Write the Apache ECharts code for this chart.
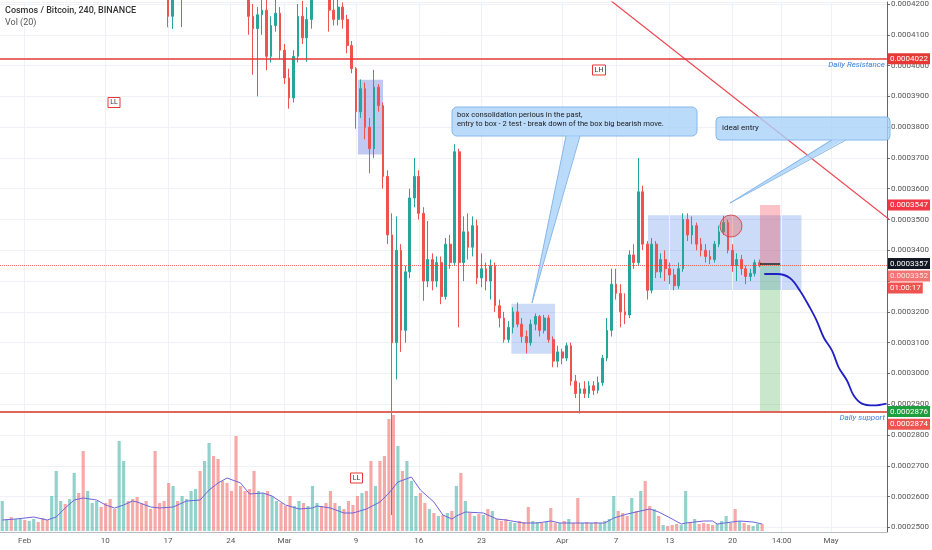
<!DOCTYPE html>
<html><head><meta charset="utf-8">
<script src="https://cdn.jsdelivr.net/npm/echarts@6/dist/echarts.min.js"></script>
<style>html,body{margin:0;padding:0;background:#fff}#c{width:932px;height:550px}</style>
</head><body><div id="c"></div>
<script>
// Prices are given in units of 1e-7 BTC (e.g. 3352 = 0.0003352)
const SCALE = 1e-7;
// 12h candles starting 2020-01-29 12:00 UTC
const openE7 = [
4480,4520,4560,4530,4590,4610,4570,4600,4640,4620,
4580,4550,4600,4660,4700,4680,4720,4760,4730,4690,
4710,4750,4800,4770,4740,4700,4660,4690,4720,4680,
4640,4600,4560,4520,4480,4430,4380,4300,4160,4280,
4260,4330,4380,4420,4460,4430,4480,4520,4490,4450,
4410,4380,4340,4300,4270,4250,4160,4120,4165,4180,
4030,4130,4170,4050,3960,3895,4030,4160,4090,4150,
4230,4300,4280,4250,4180,4150,4190,4150,4065,3990,
3850,3925,3800,3730,3930,3870,3640,3450,3100,3400,
3140,3330,3570,3640,3520,3300,3370,3300,3360,3250,
3420,3360,3720,3360,3460,3410,3480,3310,3340,3300,
3350,3220,3180,3110,3150,3200,3160,3120,3100,3160,
3185,3140,3180,3110,3040,3070,3050,3090,2975,2935,
2950,2935,2960,2945,2970,3050,3140,3290,3260,3200,
3190,3385,3360,3590,3420,3270,3420,3330,3370,3340,
3320,3285,3340,3500,3450,3480,3420,3400,3380,3370,
3420,3460,3490,3400,3350,3370,3340,3315,3325,3360];
const closeE7 = [
4520,4560,4530,4590,4610,4570,4600,4640,4620,4580,
4550,4600,4660,4700,4680,4720,4760,4730,4690,4710,
4750,4800,4770,4740,4700,4660,4690,4720,4680,4640,
4600,4560,4520,4480,4430,4380,4300,4160,4280,4260,
4330,4380,4420,4460,4430,4480,4520,4490,4450,4410,
4380,4340,4300,4270,4250,4160,4120,4165,4180,4030,
4130,4170,4050,3960,3895,4030,4160,4090,4150,4230,
4300,4280,4250,4180,4150,4190,4150,4065,3990,3850,
3925,3800,3730,3930,3870,3640,3450,3100,3400,3140,
3330,3570,3640,3520,3300,3370,3300,3360,3250,3420,
3360,3720,3360,3460,3410,3480,3310,3340,3300,3350,
3220,3180,3110,3150,3200,3160,3120,3100,3160,3185,
3140,3180,3110,3040,3070,3050,3090,2975,2935,2950,
2935,2960,2945,2970,3050,3140,3290,3260,3200,3190,
3385,3360,3590,3420,3270,3420,3330,3370,3340,3320,
3285,3340,3500,3450,3480,3420,3400,3380,3370,3420,
3460,3490,3400,3350,3370,3340,3315,3325,3360,3352];
const lowE7 = [
4450,4490,4500,4510,4560,4540,4550,4580,4590,4550,
4520,4530,4570,4640,4650,4660,4690,4700,4660,4670,
4690,4730,4740,4710,4680,4630,4600,4650,4650,4610,
4570,4530,4490,4450,4390,4340,4260,4125,4119,4220,
4125,4300,4350,4390,4400,4410,4450,4460,4420,4380,
4350,4310,4260,4240,4215,4100,3970,3900,4100,3985,
4010,4110,4020,3940,3860,3880,4010,4070,4012,4120,
4210,4250,4215,4110,4130,4130,4120,4040,3975,3795,
3830,3760,3650,3700,3850,3600,3420,2540,2980,3070,
3100,3310,3540,3500,3236,3280,3270,3280,3225,3240,
3340,3350,3150,3300,3370,3380,3290,3280,3270,3240,
3200,3150,3100,3100,3130,3150,3100,3065,3090,3140,
3120,3130,3100,3020,3020,3030,3040,2960,2920,2870,
2920,2920,2930,2935,2960,3040,3120,3240,3150,3160,
3180,3340,3350,3400,3240,3260,3310,3310,3300,3290,
3270,3275,3330,3430,3420,3400,3380,3360,3355,3360,
3410,3450,3390,3330,3300,3320,3290,3300,3315,3345];
const highE7 = [
4550,4590,4580,4620,4640,4630,4630,4670,4660,4640,
4600,4640,4700,4740,4730,4750,4800,4780,4790,4740,
4780,4830,4820,4790,4760,4720,4730,4760,4740,4700,
4660,4620,4580,4540,4500,4450,4400,4320,4300,4330,
4350,4410,4450,4490,4480,4510,4550,4540,4510,4470,
4430,4400,4360,4320,4290,4270,4200,4190,4230,4220,
4160,4240,4190,4070,3990,4050,4200,4210,4190,4280,
4330,4340,4310,4270,4215,4230,4205,4165,4080,3995,
3955,3945,3830,3986,3940,3880,3660,3520,3510,3420,
3350,3600,3700,3660,3540,3495,3390,3380,3380,3440,
3450,3745,3730,3510,3520,3510,3500,3390,3360,3370,
3360,3240,3200,3170,3215,3230,3180,3140,3175,3195,
3190,3190,3190,3120,3090,3080,3100,3100,2995,2970,
2975,2975,2975,2990,3060,3180,3340,3340,3290,3260,
3400,3420,3700,3610,3430,3440,3430,3390,3400,3360,
3340,3360,3520,3520,3510,3490,3440,3420,3400,3430,
3480,3512,3500,3420,3390,3385,3350,3340,3370,3370];
// volume (relative units)
const volume = [
30,12,14,12,13,11,10,12,9,13,
11,35,60,30,27,32,58,38,80,40,
28,30,24,28,32,22,90,70,30,32,
34,28,30,22,80,28,30,48,45,30,
35,32,40,42,60,70,88,75,72,50,
48,40,95,45,40,42,60,40,38,40,
35,30,28,25,35,25,30,28,25,45,
28,25,28,40,28,25,22,30,26,35,
38,40,70,45,70,75,112,116,85,60,
70,50,35,38,28,22,18,15,16,18,
20,45,58,30,18,15,17,16,22,20,
12,10,12,9,8,10,9,24,10,9,
8,9,23,8,8,10,12,8,33,8,
9,8,9,8,10,12,35,20,18,15,
33,20,40,50,25,22,15,6,5,6,
7,6,40,8,12,7,8,7,6,7,
10,15,8,22,10,8,6,5,7,7];
// Vol(20) moving average read at candle indices
const maIdx = [0,3,7,10,12,14,16,18,21,23,25,27,29,30,33,35,38,41,44,46,48,50,53,55,58,60,63,66,69,70,73,76,78,81,84,86,88,91,93,96,98,100,101,103,107,110,112,116,119,122,124,130,134,136,139,141,144,146,149,151,152,156,158,159,164,167,169];
const maVal = [11,12,14,11,14,23,31,33,31,26,23,26,30,29,24,23,24,30,31,41,48,53,48,37,38,35,26,22,23,25,23,18,18,22,29,38,49,54,41,29,16,12,15,19,18,12,11,8,8,10,8,8,8,13,17,19,22,19,12,7,8,10,10,7,10,9,7];
// x-axis tick labels
const xTickDates = ['2020-02-01 00:00','2020-02-10 00:00','2020-02-17 00:00','2020-02-24 00:00','2020-03-01 00:00','2020-03-09 00:00','2020-03-16 00:00','2020-03-23 00:00','2020-04-01 00:00','2020-04-07 00:00','2020-04-13 00:00','2020-04-20 00:00','2020-04-25 12:00','2020-05-01 00:00'];
const xTickText = ['Feb','10','17','24','Mar','9','16','23','Apr','7','13','20','14:00','May'];
// y-axis tick labels hidden under price tags (as in the original)
const hiddenYTicks = [0.00033];
// drawings
const trendDates = ['2020-04-04 12:00','2020-05-08 00:00'];
const trendE7 = [4255,3489];
const projDates = ['2020-04-23 13:30','2020-04-25 00:00','2020-04-26 10:00','2020-04-27 13:30','2020-04-28 16:00','2020-04-29 10:00','2020-04-30 05:00','2020-05-01 03:00','2020-05-01 21:00','2020-05-02 19:00','2020-05-03 13:00','2020-05-04 11:00','2020-05-05 19:00','2020-05-07 05:00'];
const projE7 = [3323,3323,3310,3268,3213,3171,3116,3074,3019,2977,2928,2902,2896,2902];
const boxes = [ // [startDate, endDate, topE7, bottomE7]
 ['2020-03-09 05:00','2020-03-12 00:00',3954,3711],
 ['2020-03-26 08:00','2020-03-31 05:00',3226,3064],
 ['2020-04-10 14:00','2020-04-27 17:00',3514,3271]];
const position = {start:'2020-04-23 02:00', end:'2020-04-25 08:00', stopE7:3547, entryE7:3357, targetE7:2876};
const resistanceE7 = 4022, supportE7 = 2874, lastE7 = 3352;

function fmt(t){const d=new Date(t);const p=n=>String(n).padStart(2,'0');return d.getUTCFullYear()+'-'+p(d.getUTCMonth()+1)+'-'+p(d.getUTCDate())+' '+p(d.getUTCHours())+':'+p(d.getUTCMinutes());}
function T(s){return Date.UTC(+s.slice(0,4),+s.slice(5,7)-1,+s.slice(8,10),+s.slice(11,13),+s.slice(14,16));}
const categories=[]; const t0=Date.UTC(2020,0,29,12);
for(let i=0;i<198;i++) categories.push(fmt(t0+i*43200000));
const tickIdx = {}; xTickDates.forEach((d,k)=>{tickIdx[categories.indexOf(d)] = xTickText[k];});

const UP='#26a69a', DOWN='#ef5350';
const candles = openE7.map((o,i)=>[o*SCALE, closeE7[i]*SCALE, lowE7[i]*SCALE, highE7[i]*SCALE]);
const volData = volume.map((v,i)=>({value:v, itemStyle:{color: closeE7[i]>=openE7[i] ? 'rgba(38,166,154,0.5)' : 'rgba(239,83,80,0.5)'}}));
const maData = maIdx.map((k,j)=>[categories[k], maVal[j]]);
const FONT='Roboto, "Liberation Sans", sans-serif';
const tag=(txt,bg,dy)=>({show:true,position:'end',distance:1,formatter:txt,backgroundColor:bg,color:'#fff',fontSize:8,fontFamily:FONT,padding:[2,2,1,2],offset:[0,dy||0]});
const NOLINE={color:'rgba(0,0,0,0)',width:0};
const xs = T('2020-01-29 06:00'), xe = T('2020-05-07 06:00');
const hline = (e7, lineStyle, label) => [{coord:[xs, e7*SCALE], lineStyle, label},{coord:[xe, e7*SCALE]}];

const chart = echarts.init(document.getElementById('c'));
chart.setOption({
  animation:false,
  backgroundColor:'#fff',
  grid:[{left:-0.75,right:41.75,top:0,bottom:18},{left:-0.75,right:41.75,top:401,bottom:19}],
  xAxis:[
    {type:'category',gridIndex:0,data:categories,boundaryGap:true,
     axisLine:{lineStyle:{color:'#b8bbc4'}},axisTick:{show:false},splitLine:{show:false},
     axisLabel:{interval:(i)=>tickIdx[i]!==undefined,formatter:(v,i)=>tickIdx[i]||'',fontSize:8,color:'#555',fontFamily:FONT,margin:5}},
    {type:'time',gridIndex:0,min:xs,max:xe,show:false},
    {type:'category',gridIndex:1,data:categories,boundaryGap:true,show:false}
  ],
  yAxis:[
    {type:'value',gridIndex:0,position:'right',min:0.0002485,max:0.00042065,splitNumber:17,scale:true,
     axisLine:{show:true,lineStyle:{color:'#666'}},axisTick:{show:true,length:3,lineStyle:{color:'#666'}},
     axisLabel:{formatter:v=>hiddenYTicks.some(h=>Math.abs(h-v)<1e-9)?'':v.toFixed(7),fontSize:8,color:'#555',fontFamily:FONT,margin:4,showMinLabel:false,showMaxLabel:false},
     splitLine:{lineStyle:{color:'#eff1f6'}}},
    {type:'value',gridIndex:1,min:0,max:130,show:false}
  ],
  series:[
    {type:'line',name:'vgrid',xAxisIndex:1,yAxisIndex:0,data:[],silent:true,
     markLine:{z:1,silent:true,symbol:['none','none'],label:{show:false},lineStyle:{color:'#eff1f6',width:1,type:'solid'},
       data:xTickDates.map(d=>({xAxis:T(d)}))}},
    {type:'bar',name:'Vol',xAxisIndex:2,yAxisIndex:1,data:volData,barWidth:'70%',z:1},
    {type:'line',name:'VolMA',xAxisIndex:2,yAxisIndex:1,data:maData,symbol:'none',lineStyle:{color:'#6d64d8',width:1},z:2},
    {type:'candlestick',name:'ATOMBTC',xAxisIndex:0,yAxisIndex:0,data:candles,z:3,
     itemStyle:{color:UP,color0:DOWN,borderColor:UP,borderColor0:DOWN,borderWidth:1}},
    {type:'line',name:'levels',xAxisIndex:1,yAxisIndex:0,data:[],silent:true,z:6,
     markLine:{silent:true,symbol:['none','none'],z:6,data:[
       hline(resistanceE7,{color:'#e53935',width:1.5,type:'solid'},tag('0.0004022','#e53935')),
       hline(resistanceE7,NOLINE,{show:true,position:'insideEndBottom',formatter:'Daily Resistance',color:'#3d7fd6',fontStyle:'italic',fontSize:8,fontFamily:FONT,distance:2}),
       hline(position.stopE7,NOLINE,tag('0.0003547','#f23645')),
       hline(position.entryE7,NOLINE,tag('0.0003357','#131722')),
       hline(lastE7,{color:'#f44336',width:1,type:'dotted',opacity:0.8},tag('0.0003352','#ef5350',11)),
       hline(lastE7,NOLINE,tag('01:00:17','#ef5350',23)),
       hline(position.targetE7,NOLINE,tag('0.0002876','#1e9e3e')),
       hline(supportE7,{color:'#e0665c',width:2,type:'solid'},tag('0.0002874','#ef5350',12)),
       hline(supportE7,NOLINE,{show:true,position:'insideEndBottom',formatter:'Daily support',color:'#3d7fd6',fontStyle:'italic',fontSize:8,fontFamily:FONT,distance:2})
     ]}},
    {type:'line',name:'trend',xAxisIndex:1,yAxisIndex:0,data:trendDates.map((d,k)=>[T(d),trendE7[k]*SCALE]),symbol:'none',
     lineStyle:{color:'#f0434f',width:1.2},z:4,silent:true,
     markArea:{silent:true,data:boxes.map((b,k)=>[{coord:[T(b[0]),b[2]*SCALE],itemStyle:{color:k===0?'rgba(60,90,215,0.33)':'rgba(50,110,225,0.25)'}},{coord:[T(b[1]),b[3]*SCALE]}])}},
    {type:'line',name:'projection',xAxisIndex:1,yAxisIndex:0,data:projDates.map((d,k)=>[T(d),projE7[k]*SCALE]),symbol:'none',smooth:0.35,
     lineStyle:{color:'#1f1fc4',width:1.8},z:5,silent:true,
     markArea:{silent:true,data:[
       [{coord:[T(position.start),position.stopE7*SCALE],itemStyle:{color:'rgba(242,54,69,0.3)'}},{coord:[T(position.end),position.entryE7*SCALE]}],
       [{coord:[T(position.start),position.entryE7*SCALE],itemStyle:{color:'rgba(76,175,80,0.3)'}},{coord:[T(position.end),position.targetE7*SCALE]}]]},
     markLine:{silent:true,symbol:['none','none'],label:{show:false},data:[
       [{coord:[T(position.start),position.entryE7*SCALE],lineStyle:{color:'#222',width:1.5,type:'solid'}},{coord:[T(position.end),position.entryE7*SCALE]}]]}}
  ],
  graphic:[
    {type:'text',x:5,y:6,z:100,style:{text:'Cosmos / Bitcoin, 240, BINANCE',fill:'#333',font:'500 9px '+FONT}},
    {type:'text',x:5,y:18,z:100,style:{text:'Vol (20)',fill:'#555',font:'9px '+FONT}},
    // callout 1
    {type:'rect',z:100,shape:{x:452,y:107,width:245,height:29,r:5},style:{fill:'rgba(170,210,250,0.8)',stroke:'#86b8ec',lineWidth:1}},
    {type:'polygon',z:101,shape:{points:[[566,135],[580,135],[532,303]]},style:{fill:'rgba(170,210,250,0.8)'}},
    {type:'polyline',z:101,shape:{points:[[566,136],[532,303],[580,136]]},style:{stroke:'#86b8ec',lineWidth:1,fill:null}},
    {type:'text',x:457,y:110,z:102,style:{text:'box consolidation perious in the past,\nentry to box - 2 test - break down of the box big bearish move.',fill:'#1a1a1a',font:'7.6px '+FONT,lineHeight:9.5}},
    // callout 2
    {type:'rect',z:100,shape:{x:716,y:117,width:174,height:23,r:4},style:{fill:'rgba(170,210,250,0.8)',stroke:'#86b8ec',lineWidth:1}},
    {type:'polygon',z:101,shape:{points:[[832,139],[846,139],[730,203]]},style:{fill:'rgba(170,210,250,0.8)'}},
    {type:'polyline',z:101,shape:{points:[[832,140],[730,203],[846,140]]},style:{stroke:'#86b8ec',lineWidth:1,fill:null}},
    {type:'text',x:722,y:124,z:102,style:{text:'ideal entry',fill:'#1a1a1a',font:'8px '+FONT}},
    // circle
    {type:'circle',z:100,shape:{cx:731,cy:226,r:11},style:{fill:'rgba(239,83,80,0.35)',stroke:'rgba(200,60,60,0.8)',lineWidth:1}},
    // LL / LH labels
    {type:'rect',z:100,shape:{x:108,y:97.5,width:12,height:10},style:{fill:'#fff',stroke:'#e53935',lineWidth:1}},
    {type:'text',z:101,x:114,y:102.5,style:{text:'LL',fill:'#333',font:'7px '+FONT,align:'center',verticalAlign:'middle'}},
    {type:'rect',z:100,shape:{x:592.5,y:65,width:13,height:10},style:{fill:'#fff',stroke:'#e53935',lineWidth:1}},
    {type:'text',z:101,x:599,y:70,style:{text:'LH',fill:'#333',font:'7px '+FONT,align:'center',verticalAlign:'middle'}},
    {type:'rect',z:100,shape:{x:350.5,y:473,width:12,height:10},style:{fill:'#fff',stroke:'#e53935',lineWidth:1}},
    {type:'text',z:101,x:356.5,y:478,style:{text:'LL',fill:'#333',font:'7px '+FONT,align:'center',verticalAlign:'middle'}}
  ]
});
</script></body></html>
